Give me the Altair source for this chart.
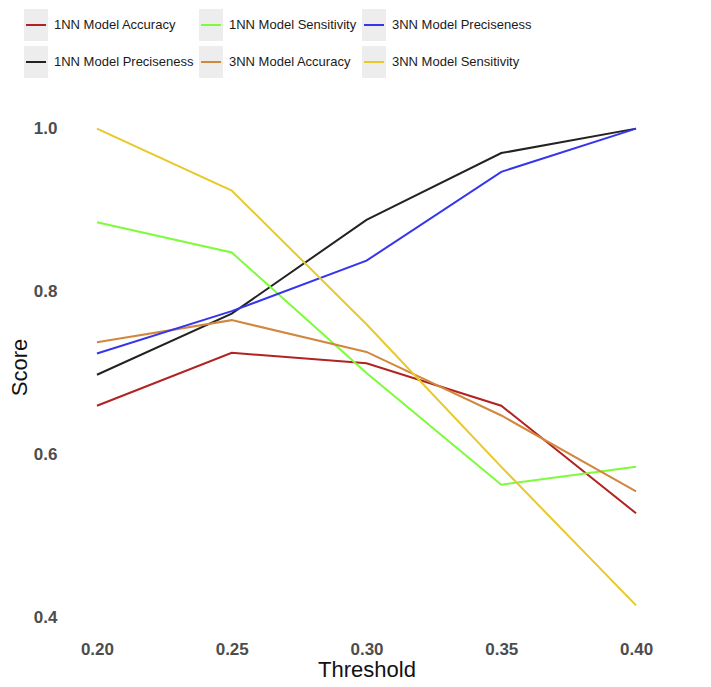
import altair as alt
import pandas as pd

thresholds = [0.20, 0.25, 0.30, 0.35, 0.40]
acc_1nn = [0.660, 0.725, 0.712, 0.660, 0.528]
prec_1nn = [0.698, 0.773, 0.888, 0.970, 1.000]
sens_1nn = [0.885, 0.848, 0.700, 0.563, 0.585]
acc_3nn = [0.738, 0.765, 0.726, 0.648, 0.555]
prec_3nn = [0.724, 0.776, 0.838, 0.947, 1.000]
sens_3nn = [1.000, 0.924, 0.760, 0.585, 0.415]

series_names = ["1NN Model Accuracy", "1NN Model Preciseness", "1NN Model Sensitivity",
                "3NN Model Accuracy", "3NN Model Preciseness", "3NN Model Sensitivity"]
series_values = [acc_1nn, prec_1nn, sens_1nn, acc_3nn, prec_3nn, sens_3nn]
series_colors = ["#B22222", "#222222", "#7CFC3A", "#D2873F", "#3535EE", "#E8C82A"]

y_ticks = [0.4, 0.6, 0.8, 1.0]

rows = []
for name, vals in zip(series_names, series_values):
    for t, v in zip(thresholds, vals):
        rows.append({"Threshold": t, "Score": v, "Series": name})
df = pd.DataFrame(rows)

FONT = "Liberation Sans, Arial, sans-serif"

# legend key: grey filled box whose outline starts with the short coloured line;
# the dash pattern strokes only that first stretch
KEY_PATH = "M-0.625,0H0.75V-1H-0.75V1H0.75V0Z"

chart = alt.Chart(df).mark_line(strokeWidth=2).encode(
    x=alt.X("Threshold:Q",
            scale=alt.Scale(domain=[0.19, 0.41], nice=False, zero=False),
            axis=alt.Axis(values=thresholds, format=".2f", title="Threshold",
                          labelPadding=12, titlePadding=2)),
    y=alt.Y("Score:Q",
            scale=alt.Scale(domain=[0.386, 1.029], nice=False, zero=False),
            axis=alt.Axis(values=y_ticks, format=".1f", title="Score",
                          labelPadding=13, titlePadding=2)),
    color=alt.Color("Series:N",
                    scale=alt.Scale(domain=series_names, range=series_colors),
                    legend=alt.Legend(orient="none", legendX=-51, legendY=-97, columns=3,
                                      columnPadding=-4, rowPadding=-7, symbolSize=1024,
                                      symbolType=KEY_PATH, symbolFillColor="#EDEDED",
                                      symbolStrokeWidth=2, symbolDash=[20, 1000],
                                      labelFont=FONT, labelFontSize=13, labelOffset=1,
                                      labelColor="#1A1A1A", labelLimit=400, title=None)),
).properties(
    width=593, height=524,
    autosize=alt.AutoSizeParams(type="none"),
    padding={"left": 62, "top": 97, "right": 40, "bottom": 54},
).configure_view(stroke=None).configure_axis(
    grid=False, domain=False, ticks=False,
    labelFont=FONT, labelFontSize=17, labelFontWeight="bold", labelColor="#4D4D4D",
    titleFont=FONT, titleFontSize=22, titleFontWeight="normal", titleColor="#111111",
)

chart.save("out.html", embed_options={"renderer": "svg", "actions": False})
